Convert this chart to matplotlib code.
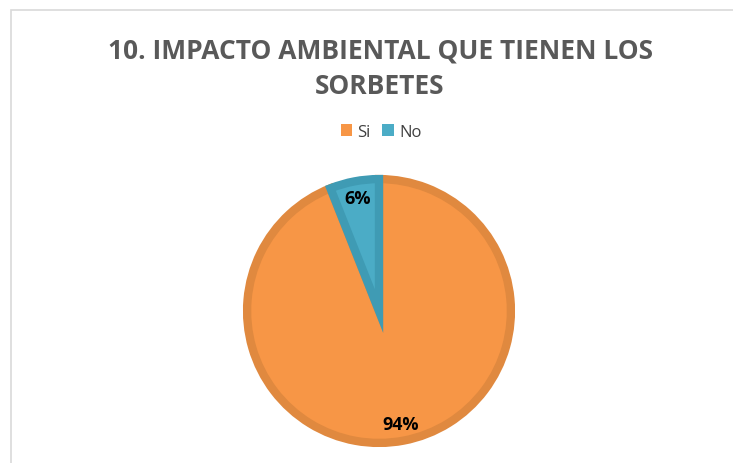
import matplotlib.pyplot as plt
from matplotlib.patches import Rectangle

labels = ["Si", "No"]
values = [94, 6]
fill_colors = ["#F79646", "#4BACC6"]
edge_colors = ["#E0893F", "#3F9BB4"]
title = "10. IMPACTO AMBIENTAL QUE TIENEN LOS\nSORBETES"

plt.rcParams["font.family"] = ["Open Sans", "DejaVu Sans"]

W, H = 733, 464
fig = plt.figure(figsize=(W / 100, H / 100), dpi=100)

# chart frame (cut off on right and bottom like the screenshot)
fig.patches.append(Rectangle((11 / W, -0.1), 1.2, (H - 11) / H + 0.1,
                             transform=fig.transFigure, fill=False,
                             edgecolor="#D9D9D9", linewidth=1.2))

cx, cy, r = 379, 312, 136
ax = fig.add_axes([(cx - r) / W, (H - cy - r) / H, 2 * r / W, 2 * r / H])
wedges, texts, autotexts = ax.pie(
    values, colors=fill_colors, startangle=90, counterclock=False,
    autopct="%1.0f%%", pctdistance=0.87, radius=0.97,
    wedgeprops=dict(linewidth=6),
    textprops=dict(fontsize=13, fontweight="bold", color="#000000"))
for w, ec in zip(wedges, edge_colors):
    w.set_edgecolor(ec)
    w.set_joinstyle("miter")
ax.set_xlim(-1, 1)
ax.set_ylim(-1, 1)
ax.set_aspect("equal")
ax.axis("off")

fig.text(380 / W, 1 - 69 / H, title, ha="center", va="center",
         fontsize=19, fontweight="bold", color="#595959", linespacing=1.4)

leg = fig.legend(wedges, labels, loc="center", bbox_to_anchor=(381 / W, 1 - 133 / H),
                 ncol=2, frameon=False, fontsize=12, handlelength=0.7,
                 handleheight=0.7, handletextpad=0.3, columnspacing=0.7,
                 labelcolor="#404040")
for h, c in zip(leg.legend_handles, fill_colors):
    h.set_facecolor(c)
    h.set_edgecolor(c)
    h.set_linewidth(0)

fig.savefig("out.png", dpi=100)
